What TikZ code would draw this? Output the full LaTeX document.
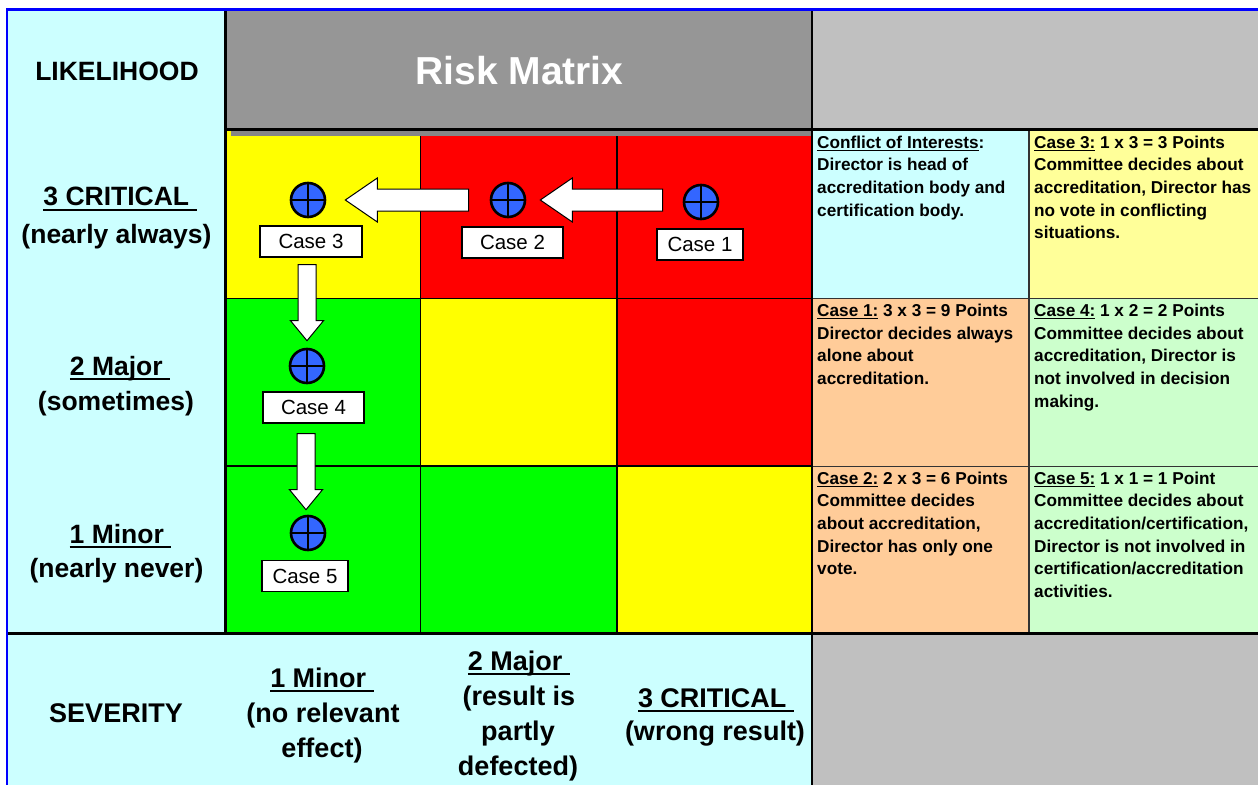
\documentclass[tikz,border=0pt]{standalone}
\usepackage{fontspec}
\setmainfont{Liberation Sans}
\usetikzlibrary{calc}

\definecolor{paneCyan}{HTML}{CCFFFF}
\definecolor{paneGray}{HTML}{C0C0C0}
\definecolor{titleGray}{HTML}{969696}
\definecolor{shadowGray}{HTML}{868686}
\definecolor{riskYellow}{HTML}{FFFF00}
\definecolor{riskRed}{HTML}{FF0000}
\definecolor{riskGreen}{HTML}{00FF00}
\definecolor{notePaleYellow}{HTML}{FFFF99}
\definecolor{notePeach}{HTML}{FFCC99}
\definecolor{notePaleGreen}{HTML}{CCFFCC}
\definecolor{markBlue}{HTML}{3366FF}
\definecolor{frameBlue}{HTML}{0000FF}
\definecolor{noteLine}{HTML}{333333}

% underlines at a fixed depth below the baseline
\newcommand\ulbig[1]{\setbox0\hbox{#1}\rlap{\rule[-0.2em]{\wd0}{0.085em}}\box0\relax}
\newcommand\ulnote[1]{\setbox0\hbox{#1}\rlap{\rule[-0.15em]{\wd0}{0.06em}}\box0\relax}

% block arrow pointing left: #1 tail, #2 tip
\newcommand\blockW[2]{\draw[blockarrow] ($(#1 |- #2)+(0,-11)$) -- ($(#2)+(32,-11)$) -- ($(#2)+(32,-22)$) -- (#2)
  -- ($(#2)+(32,22)$) -- ($(#2)+(32,11)$) -- ($(#1 |- #2)+(0,11)$) -- cycle;}
% block arrow pointing down: #1 tail, #2 tip
\newcommand\blockS[2]{\draw[blockarrow] ($(#2 |- #1)+(-9,0)$) -- ($(#2)+(-9,-20)$) -- ($(#2)+(-16.5,-20)$) -- (#2)
  -- ($(#2)+(16.5,-20)$) -- ($(#2)+(9,-20)$) -- ($(#2 |- #1)+(9,0)$) -- cycle;}

\begin{document}
\begin{tikzpicture}[x=1bp,y=-1bp,
  lbl/.style={anchor=base, inner sep=0pt, font=\fontsize{26.5bp}{30bp}\selectfont\bfseries},
  sev/.style={anchor=base, inner sep=0pt, font=\fontsize{27bp}{30bp}\selectfont\bfseries},
  note/.style={anchor=base west, inner sep=0pt, font=\fontsize{17.2bp}{22.6bp}\selectfont\bfseries},
  casebox/.style={draw=black, line width=1.2bp, fill=white, inner sep=0pt, minimum height=31bp,
    font=\fontsize{20.5bp}{24bp}\selectfont},
  marker/.style={circle, fill=markBlue, draw=black, line width=2.6bp, minimum size=34bp, inner sep=0pt,
    path picture={\draw[black, line width=2.6bp]
      (path picture bounding box.north) -- (path picture bounding box.south)
      (path picture bounding box.west) -- (path picture bounding box.east);}},
  blockarrow/.style={draw=black, line width=1bp, fill=white, line join=miter},
  gridthin/.style={draw=black, line width=1.1bp},
  notegrid/.style={draw=noteLine, line width=1.3bp},
]
\fill[white] (0,0) rectangle (1258,785);
\useasboundingbox (0,0) rectangle (1258,785);

% label column, severity row and grey panes
\fill[paneCyan] (7,9) rectangle (225,785);
\fill[paneCyan] (7,633) rectangle (812,785);
\fill[paneGray] (812,9) rectangle (1258,130);
\fill[paneGray] (812,633) rectangle (1258,785);

% risk cells
\fill[riskYellow] (225,130) rectangle (420.5,298.5);
\fill[riskRed]    (420.5,130) rectangle (617,298.5);
\fill[riskRed]    (617,130) rectangle (812,298.5);
\fill[riskGreen]  (225,298.5) rectangle (420.5,466);
\fill[riskYellow] (420.5,298.5) rectangle (617,466);
\fill[riskRed]    (617,298.5) rectangle (812,466);
\fill[riskGreen]  (225,466) rectangle (420.5,633);
\fill[riskGreen]  (420.5,466) rectangle (617,633);
\fill[riskYellow] (617,466) rectangle (812,633);
\draw[gridthin] (420.5,130) -- (420.5,633) (617,130) -- (617,633)
  (225,298.5) -- (812,298.5) (225,466) -- (812,466);

% note cells
\fill[paneCyan]       (812,130) rectangle (1029,298.8);
\fill[notePaleYellow] (1029,130) rectangle (1258,298.8);
\fill[notePeach]      (812,298.8) rectangle (1029,466.5);
\fill[notePaleGreen]  (1029,298.8) rectangle (1258,466.5);
\fill[notePeach]      (812,466.5) rectangle (1029,633);
\fill[notePaleGreen]  (1029,466.5) rectangle (1258,633);
\draw[notegrid] (1029,130) -- (1029,633) (812,298.8) -- (1258,298.8) (812,466.5) -- (1258,466.5);

% title bar with its shadow
\fill[shadowGray] (231,130) rectangle (812,135.5);
\fill[titleGray] (225,9) rectangle (811,129.5);
\node[anchor=base, inner sep=0pt, text=white, font=\fontsize{39bp}{44bp}\selectfont\bfseries]
  (title) at (519.5,85) {Risk Matrix};

% frame lines
\draw[black, line width=2.4bp] (225,129.5) -- (1258,129.5);
\draw[black, line width=2.2bp] (811.6,9) -- (811.6,785);
\draw[black, line width=2.5bp] (225.4,9) -- (225.4,633);
\draw[black, line width=3bp] (7,633.3) -- (1258,633.3);
\draw[frameBlue, line width=2.2bp] (7,785) -- (7,9.5) -- (1258,9.5);

% likelihood axis
\node[lbl] (likelihood) at (117,81) {LIKELIHOOD};
\node[lbl] (l3a) at (120,205.5) {\ulbig{3 CRITICAL\ }};
\node[lbl] (l3b) at (116.5,243) {(nearly always)};
\node[lbl] (l2a) at (120,375) {\ulbig{2 Major\ }};
\node[lbl] (l2b) at (116,410) {(sometimes)};
\node[lbl] (l1a) at (120.5,543) {\ulbig{1 Minor\ }};
\node[lbl] (l1b) at (116.5,577) {(nearly never)};

% severity axis
\node[sev] (severity) at (116,722) {SEVERITY};
\node[sev] (s1a) at (322,687) {\ulbig{1 Minor\ }};
\node[sev] (s1b) at (323,722) {(no relevant};
\node[sev] (s1c) at (322,757) {effect)};
\node[sev] (s2a) at (519,670) {\ulbig{2 Major\ }};
\node[sev] (s2b) at (519,705) {(result is};
\node[sev] (s2c) at (518,740) {partly};
\node[sev] (s2d) at (518,775) {defected)};
\node[sev] (s3a) at (716,707) {\ulbig{3 CRITICAL\ }};
\node[sev] (s3b) at (715,740) {(wrong result)};

% notes
\node[note] (n0) at (817,148.3) {\vtop{\baselineskip=22.6bp
  \hbox{\ulnote{Conflict of Interests}:}\hbox{Director is head of}\hbox{accreditation body and}\hbox{certification body.}}};
\node[note] (n3) at (1034,148.3) {\vtop{\baselineskip=22.6bp
  \hbox{\ulnote{Case 3:} 1 x 3 = 3 Points}\hbox{Committee decides about}\hbox{accreditation, Director has}\hbox{no vote in conflicting}\hbox{situations.}}};
\node[note] (n1) at (817,316.7) {\vtop{\baselineskip=22.6bp
  \hbox{\ulnote{Case 1:} 3 x 3 = 9 Points}\hbox{Director decides always}\hbox{alone about}\hbox{accreditation.}}};
\node[note] (n4) at (1034,316.7) {\vtop{\baselineskip=22.6bp
  \hbox{\ulnote{Case 4:} 1 x 2 = 2 Points}\hbox{Committee decides about}\hbox{accreditation, Director is}\hbox{not involved in decision}\hbox{making.}}};
\node[note] (n2) at (817,484.3) {\vtop{\baselineskip=22.6bp
  \hbox{\ulnote{Case 2:} 2 x 3 = 6 Points}\hbox{Committee decides}\hbox{about accreditation,}\hbox{Director has only one}\hbox{vote.}}};
\node[note] (n5) at (1034,484.3) {\vtop{\baselineskip=22.6bp
  \hbox{\ulnote{Case 5:} 1 x 1 = 1 Point}\hbox{Committee decides about}\hbox{accreditation/certification,}\hbox{Director is not involved in}\hbox{certification/accreditation}\hbox{activities.}}};

% case markers and their labels
\node[marker] (m1) at (701,202) {};
\node[marker] (m2) at (508,200) {};
\node[marker] (m3) at (308,200) {};
\node[marker] (m4) at (307,366) {};
\node[marker] (m5) at (308,533) {};
\node[casebox, minimum width=86bp]  (c1) at (700,244.5) {Case 1};
\node[casebox, minimum width=101bp] (c2) at (512.5,242.5) {Case 2};
\node[casebox, minimum width=102bp] (c3) at (311,241.5) {Case 3};
\node[casebox, minimum width=101bp] (c4) at (313.5,407.5) {Case 4};
\node[casebox, minimum width=86bp]  (c5) at (305,576) {Case 5};

% moves between cases
\coordinate (a1s) at ($(m1.west)+(-20,0)$);
\coordinate (a1e) at ($(m2.east)+(14,0)$);
\coordinate (a2s) at ($(m2.west)+(-21,0)$);
\coordinate (a2e) at ($(m3.east)+(19,0)$);
\coordinate (d1s) at ($(c3.south)+(0,7)$);
\coordinate (d1e) at ($(m4.north)+(0,-7)$);
\coordinate (d2s) at ($(c4.south)+(0,10)$);
\coordinate (d2e) at ($(m5.north)+(-2,-5)$);
\blockW{a1s}{a1e}
\blockW{a2s}{a2e}
\blockS{d1s}{d1e}
\blockS{d2s}{d2e}
\end{tikzpicture}
\end{document}
